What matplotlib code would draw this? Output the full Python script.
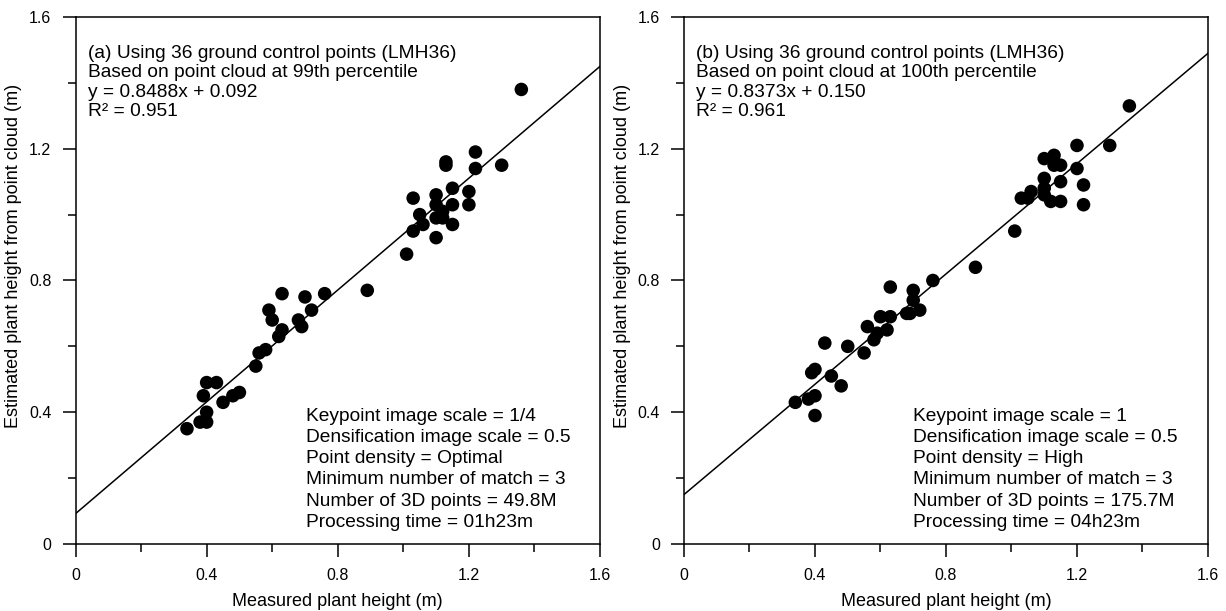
import numpy as np
import matplotlib.pyplot as plt
from matplotlib.ticker import MultipleLocator

plt.rcParams['font.family'] = ['Liberation Sans', 'DejaVu Sans']

# panel (a): 99th percentile
meas_a = [1.36, 1.22, 1.13, 1.13, 1.22, 1.30, 1.15, 1.20, 1.20, 1.03, 1.10, 1.10,
          1.15, 1.12, 1.05, 1.06, 1.03, 1.10, 1.12, 1.15, 1.10, 1.01,
          0.89, 0.76, 0.70, 0.63, 0.72, 0.59, 0.60, 0.68, 0.69, 0.63, 0.62,
          0.58, 0.56, 0.55,
          0.34, 0.38, 0.40, 0.40, 0.39, 0.40, 0.43, 0.45, 0.48, 0.50]
est_a = [1.38, 1.19, 1.16, 1.15, 1.14, 1.15, 1.08, 1.07, 1.03, 1.05, 1.06, 1.03,
         1.03, 1.01, 1.00, 0.97, 0.95, 0.99, 0.99, 0.97, 0.93, 0.88,
         0.77, 0.76, 0.75, 0.76, 0.71, 0.71, 0.68, 0.68, 0.66, 0.65, 0.63,
         0.59, 0.58, 0.54,
         0.35, 0.37, 0.37, 0.40, 0.45, 0.49, 0.49, 0.43, 0.45, 0.46]

# panel (b): 100th percentile
meas_b = [1.36, 1.20, 1.30, 1.10, 1.13, 1.15, 1.13, 1.20, 1.10, 1.15, 1.22, 1.10,
          1.06, 1.03, 1.05, 1.10, 1.12, 1.15, 1.22, 1.01,
          0.89, 0.76, 0.63, 0.70, 0.70, 0.72, 0.68, 0.69, 0.60, 0.63, 0.62,
          0.56, 0.59, 0.58, 0.43, 0.50, 0.55,
          0.40, 0.39, 0.45, 0.48, 0.40, 0.38, 0.34, 0.40]
est_b = [1.33, 1.21, 1.21, 1.17, 1.18, 1.15, 1.15, 1.14, 1.11, 1.10, 1.09, 1.08,
         1.07, 1.05, 1.05, 1.06, 1.04, 1.04, 1.03, 0.95,
         0.84, 0.80, 0.78, 0.77, 0.74, 0.71, 0.70, 0.70, 0.69, 0.69, 0.65,
         0.66, 0.64, 0.62, 0.61, 0.60, 0.58,
         0.53, 0.52, 0.51, 0.48, 0.45, 0.44, 0.43, 0.39]

slopes = [0.8488, 0.8373]
intercepts = [0.092, 0.150]

top_texts = [
    "(a) Using 36 ground control points (LMH36)\nBased on point cloud at 99th percentile\n"
    "y = 0.8488x + 0.092\nR\u00b2 = 0.951",
    "(b) Using 36 ground control points (LMH36)\nBased on point cloud at 100th percentile\n"
    "y = 0.8373x + 0.150\nR\u00b2 = 0.961",
]
bottom_texts = [
    "Keypoint image scale = 1/4\nDensification image scale = 0.5\nPoint density = Optimal\n"
    "Minimum number of match = 3\nNumber of 3D points = 49.8M\nProcessing time = 01h23m",
    "Keypoint image scale = 1\nDensification image scale = 0.5\nPoint density = High\n"
    "Minimum number of match = 3\nNumber of 3D points = 175.7M\nProcessing time = 04h23m",
]

fig = plt.figure(figsize=(12.26, 6.11), dpi=100)
axes = [fig.add_axes([0.0616, 0.1097, 0.4278, 0.8625]),
        fig.add_axes([0.5579, 0.1097, 0.4274, 0.8625])]

data = [(meas_a, est_a), (meas_b, est_b)]
for i, ax in enumerate(axes):
    x, y = data[i]
    ax.scatter(x, y, s=95, color='black', edgecolors='none', zorder=3)
    xl = np.array([0, 1.6])
    ax.plot(xl, slopes[i] * xl + intercepts[i], color='black', lw=1.1, zorder=2)
    ax.set_xlim(0, 1.6)
    ax.set_ylim(0, 1.6)
    ax.xaxis.set_minor_locator(MultipleLocator(0.2))
    ax.yaxis.set_minor_locator(MultipleLocator(0.2))
    ax.set_xticks([0, 0.4, 0.8, 1.2, 1.6])
    ax.set_xticklabels(['0', '0.4', '0.8', '1.2', '1.6'])
    ax.set_yticks([0, 0.4, 0.8, 1.2, 1.6])
    ax.set_yticklabels(['0', '0.4', '0.8', '1.2', '1.6'])
    ax.tick_params(which='major', direction='out', length=9.4, width=1.1,
                   labelsize=11.5, pad=8)
    ax.tick_params(which='minor', direction='out', length=5.8, width=1.1)
    for sp in ax.spines.values():
        sp.set_linewidth(1.1)
    ax.set_xlabel('Measured plant height (m)', fontsize=13, labelpad=7)
    ax.set_ylabel('Estimated plant height from point cloud (m)', fontsize=13)
    ax.yaxis.set_label_coords(-0.102, 0.547)
    ax.text(0.023, 0.947, top_texts[i], transform=ax.transAxes, fontsize=13.8,
            va='top', ha='left', linespacing=1.18)
    ax.text(0.4395 if i == 0 else 0.4365, 0.258, bottom_texts[i], transform=ax.transAxes,
            fontsize=13.8, va='top', ha='left', linespacing=1.32)

fig.savefig('out.png', dpi=100)
